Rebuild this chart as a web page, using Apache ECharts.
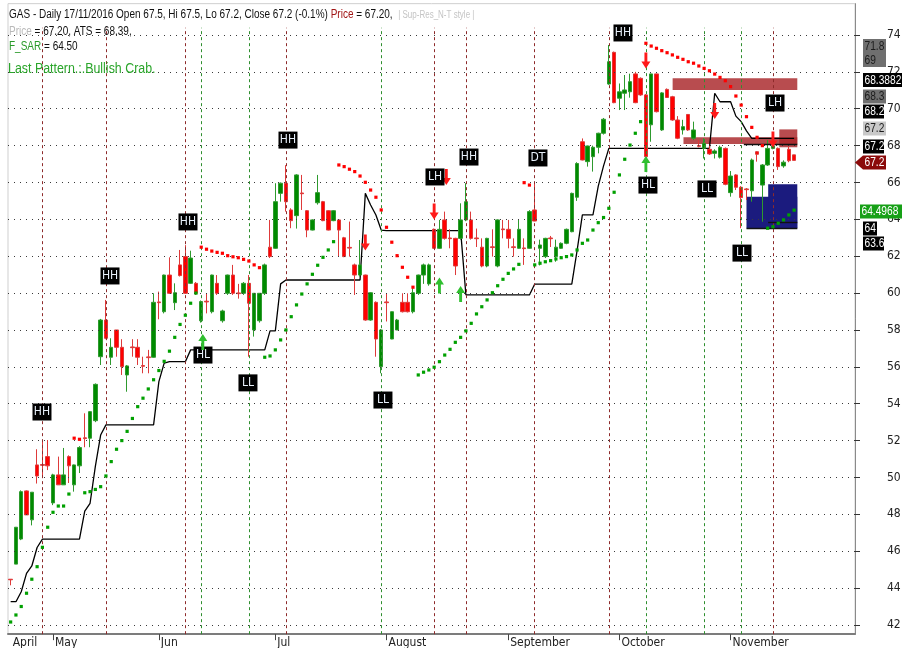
<!DOCTYPE html>
<html>
<head>
<meta charset="utf-8">
<script src="https://cdn.jsdelivr.net/npm/echarts@6.0.0/dist/echarts.min.js"></script>
<style>
html,body{margin:0;padding:0;background:#fff;}
#chart{width:904px;height:648px;}
</style>
</head>
<body>
<div id="chart"></div>
<script>
const NARROW = "'Liberation Sans Narrow','Arial Narrow','DejaVu Sans Condensed',sans-serif";
const SANS = "'Liberation Sans', Arial, sans-serif";

// ---------- data ----------
const monthIdx = [0, 8, 28, 50, 71, 94, 115, 136];
const monthNames = ['April', 'May', 'Jun', 'Jul', 'August', 'September', 'October', 'November'];
const yTicks = [42, 44, 46, 48, 50, 52, 54, 56, 58, 60, 62, 64, 66, 68, 70, 72, 74];

const opens = [44.48,45.3,46.66,49.27,47.7,50.68,50.7,51.13,48.62,50.14,
49.6,51.13,49.6,50.63,52.15,52.13,53.08,56.55,58.54,56.52,
58.0,57.06,55.56,57.08,57.06,56.07,56.54,56.52,59.52,58.99,
60.98,59.48,61.53,61.98,60.53,60.53,58.5,59.56,58.99,60.53,
58.5,59.99,60.98,60.01,59.99,60.53,58.0,58.5,59.99,62.49,
62.43,65.41,65.96,64.51,64.2,65.43,64.47,63.42,64.9,64.96,
64.47,63.93,63.97,63.0,62.48,61.53,60.98,60.98,58.54,59.5,
56.01,59.52,57.51,58.0,59.5,59.5,58.99,59.99,60.98,60.5,
63.46,62.43,63.97,62.99,62.97,62.97,63.97,63.97,62.99,62.49,
61.47,62.51,61.47,63.48,63.46,62.51,62.43,62.45,62.43,64.51,
62.43,61.98,62.99,61.98,62.43,62.7,63.33,65.2,68.21,67.13,
67.4,67.91,68.67,71.34,73.06,70.57,70.84,70.92,71.89,71.65,
70.75,69.13,71.89,68.85,71.05,70.65,69.39,68.85,69.69,68.4,
68.0,67.85,67.8,67.58,67.37,67.85,65.45,66.41,65.74,65.65,
65.55,67.67,65.86,66.95,67.85,67.85,66.9,67.8,67.5];
const closes = [44.45,47.3,49.23,47.97,49.2,50.08,50.66,50.63,50.14,49.6,
50.14,50.63,50.68,51.62,52.11,53.57,55.05,58.54,57.55,57.06,
57.06,56.01,56.05,57.04,56.52,56.03,56.5,59.5,59.48,60.98,
59.99,60.02,60.95,59.99,61.9,59.99,59.54,59.52,60.98,59.99,
59.03,60.98,59.99,59.97,60.53,59.45,59.99,59.99,61.53,61.98,
64.96,65.96,64.96,63.93,66.41,65.39,63.42,63.97,65.45,63.93,
63.42,64.47,63.42,61.98,62.44,60.98,61.53,58.54,60.02,57.51,
58.0,59.48,58.99,58.54,58.99,58.99,60.02,60.98,61.53,61.53,
62.43,63.46,62.97,62.95,61.47,63.97,64.96,62.97,62.95,61.47,
62.97,62.47,63.97,63.44,62.97,62.47,63.46,62.41,64.42,63.91,
62.61,62.97,62.95,62.49,62.7,63.46,65.41,67.03,67.22,67.98,
67.91,68.67,69.43,72.55,70.33,70.92,71.02,71.47,70.33,70.75,
67.4,71.89,69.84,70.86,70.61,69.39,68.4,69.03,68.85,68.85,
67.96,68.13,67.55,67.71,67.91,65.9,66.35,65.74,65.18,65.61,
67.22,67.53,66.95,67.85,67.98,66.86,67.1,67.18,67.2];
const lows = [44.15,45.3,46.6,47.97,47.4,49.67,50.05,50.4,48.5,49.6,
49.6,49.7,49.23,50.24,51.64,51.64,53.0,56.1,57.5,56.1,
56.55,55.56,54.65,56.55,56.1,55.65,55.65,56.5,58.58,58.9,
59.95,59.08,60.9,59.95,60.5,59.9,58.4,58.9,58.9,59.9,
58.4,59.9,59.9,59.7,59.9,56.55,57.64,58.4,59.9,61.9,
62.4,64.96,64.42,63.52,63.5,64.51,63.03,63.4,64.8,63.9,
63.4,63.9,61.98,61.95,61.98,59.9,60.9,58.5,58.5,56.55,
55.65,58.46,57.5,58.0,58.95,58.95,58.9,59.9,60.5,60.4,
62.4,62.4,62.9,62.43,60.98,62.9,63.9,62.9,62.5,61.4,
61.4,61.98,61.4,62.97,62.43,61.98,62.4,61.53,62.4,63.9,
61.5,61.9,62.5,61.7,62.4,62.65,63.3,65.0,67.2,66.86,
66.59,67.58,68.6,71.3,70.3,69.93,69.93,70.6,70.3,70.7,
67.4,68.21,69.8,68.8,70.6,69.35,68.35,68.6,68.8,68.3,
67.9,67.3,67.5,67.3,67.3,65.85,65.23,65.59,63.52,65.05,
64.96,67.13,63.87,66.9,67.8,66.68,66.8,67.1,67.2];
const highs = [44.48,47.3,49.3,49.3,49.2,51.53,52.03,52.03,50.2,51.13,
51.6,51.2,50.7,51.7,53.48,53.6,55.1,58.6,59.63,57.55,
58.0,57.5,56.1,57.5,57.5,56.55,56.92,59.99,60.08,61.0,
61.94,60.53,62.34,62.6,62.3,60.6,59.6,59.99,61.0,60.98,
59.1,61.0,61.53,60.5,60.6,60.98,60.0,60.0,61.6,63.97,
65.96,66.0,66.94,64.6,66.45,66.41,64.5,64.0,66.41,65.0,
64.5,64.5,64.0,63.05,63.88,61.6,62.88,61.0,60.05,59.55,
58.05,59.99,59.0,58.6,59.99,59.99,60.3,61.0,61.6,61.6,
63.5,63.97,64.42,63.46,63.0,64.87,65.96,64.42,63.5,62.97,
63.0,63.46,64.0,63.97,63.97,62.97,63.97,62.97,64.5,65.96,
62.9,63.0,63.1,62.9,62.75,63.5,65.45,67.1,68.39,68.0,
68.0,68.7,69.5,73.46,73.1,71.37,71.83,71.9,72.0,71.7,
70.8,71.9,71.9,70.9,71.1,70.7,69.6,69.4,69.7,69.3,
68.3,68.4,68.0,67.8,68.0,67.9,66.62,66.45,65.8,65.7,
67.3,67.7,67.0,68.3,68.0,67.9,67.2,67.98,67.5];

// ATS trailing stop
const ats = [43.26,43.26,43.8,44.8,45.2,46.2,46.65,46.65,46.65,46.65,
46.65,46.65,46.65,46.65,48.17,48.6,50.6,52.3,52.85,52.85,
52.85,52.85,52.85,52.85,52.85,52.85,52.85,52.85,55.2,56.2,
56.28,56.28,56.28,56.28,56.92,56.92,56.92,56.92,56.92,56.92,
56.92,56.92,56.92,56.92,56.92,56.92,56.92,56.92,56.92,57.95,
57.95,60.5,60.71,60.71,60.71,60.71,60.71,60.71,60.71,60.71,
60.71,60.71,60.71,60.71,60.71,60.71,60.71,65.41,64.78,64.24,
63.42,63.39,63.39,63.39,63.39,63.39,63.39,63.39,63.39,63.39,
63.39,63.39,63.39,63.39,63.39,63.39,59.9,59.9,59.9,59.9,
59.9,59.9,59.9,59.9,59.9,59.9,59.9,59.9,59.9,60.49,
60.49,60.49,60.49,60.49,60.49,60.49,60.49,62.3,64.24,64.24,
64.24,65.8,66.9,67.85,67.85,67.85,67.85,67.85,67.85,67.85,
67.85,67.85,67.85,67.85,67.85,67.85,67.85,67.85,67.85,67.85,
67.85,67.85,67.85,70.84,70.38,70.38,70.38,69.6,69.3,68.8,
68.39,68.39,68.39,68.39,68.39,68.39,68.39,68.39,68.39];

// Parabolic SAR values and side (L = below / long, S = above / short)
const sar = [42.16,42.54,43.0,43.72,44.48,45.16,46.21,47.3,48.11,48.45,48.45,49.1,
52.13,52.07,
49.17,49.23,49.35,49.5,50.08,50.86,51.53,52.0,52.5,53.2,53.84,54.3,54.8,55.3,55.8,56.3,56.85,57.6,58.3,58.8,59.45,60.0,
62.49,62.38,62.28,62.21,62.16,62.03,61.97,61.92,61.83,61.74,61.53,61.38,
56.52,56.59,56.92,57.46,58.0,58.72,59.36,59.95,60.5,61.02,61.51,61.94,62.34,62.79,
66.95,66.86,66.72,66.59,66.35,66.01,65.59,65.2,64.51,63.57,62.76,62.03,61.4,60.86,60.32,
55.56,55.71,55.83,55.98,56.28,56.64,56.95,57.33,57.6,57.95,58.36,58.87,59.26,59.63,60.02,60.4,60.75,61.07,61.31,61.56,
65.99,65.86,
61.53,61.62,61.7,61.76,61.85,61.92,61.98,62.07,62.34,62.7,62.88,63.42,63.82,64.1,64.6,65.47,66.41,67.26,68.03,68.67,69.3,
73.55,73.4,73.28,73.15,73.04,72.92,72.79,72.68,72.55,72.47,72.32,72.19,72.06,71.88,71.7,71.52,71.2,70.69,70.2,69.57,68.99,68.45,68.0,
63.52,63.6,63.79,63.97,64.24,64.5];
const sarSide = 'LLLLLLLLLLLL' + 'SS' + 'LLLLLLLLLLLLLLLLLLLLLL' + 'SSSSSSSSSSSS' +
  'LLLLLLLLLLLLLL' + 'SSSSSSSSSSSSSSS' + 'LLLLLLLLLLLLLLLLLLLL' + 'SS' +
  'LLLLLLLLLLLLLLLLLLLLL' + 'SSSSSSSSSSSSSSSSSSSSSSS' + 'LLLLLL';

// swing labels [text, bar position, price]
const pivotText = ['HH','HH','HH','HL','LL','HH','LL','LH','HH','DT','HH','HL','LL','LL','LH'];
const pivotBar  = [5.92,18.77,33.5,36.33,44.83,52.39,70.33,80.16,86.58,99.61,115.67,120.39,131.54,138.15,144.39];
const pivotPrice= [53.55,60.93,63.86,56.64,55.13,68.3,54.2,66.3,67.38,67.33,74.11,65.86,65.65,62.17,70.31];

const buyArrowBar = [36.3, 81, 85, 120];
const buyArrowPrice = [57.35, 60.41, 59.95, 67.0];
const sellArrowBar = [82.3, 67, 80, 120, 133, 144];
const sellArrowPrice = [66.3, 62.75, 64.43, 72.62, 69.88, 68.33];

const redPivotLines = [6, 18, 33, 52, 80, 86, 99, 113, 144];
const greenPivotLines = [36, 45, 70, 120, 131, 138];

// zones [barFrom, priceLow, barTo, priceHigh]
const resZones = [[125.05, 71.02, 148.6, 71.65], [127.1, 68.09, 148.6, 68.45], [145.2, 67.91, 148.6, 68.88]];
const supZones = [[139.0, 63.52, 148.6, 65.23], [143.1, 63.52, 148.6, 65.9]];
const zoneEdges = [[138.5, 68.1, 148.6, 68.1], [143.1, 63.87, 148.6, 63.87], [139.0, 63.52, 148.6, 63.52]];

const categories = [];
for (let i = 0; i < 160; i++) categories.push(String(i));

// ---------- build ----------
const candleData = opens.map((o, i) => [o, closes[i], lows[i], highs[i]]);
const sarLong = [], sarShort = [];
sar.forEach((v, i) => { (sarSide[i] === 'L' ? sarLong : sarShort).push([i, v]); });
const upArrow = 'path://M5,0 L10,7 L6.6,7 L6.6,16 L3.4,16 L3.4,7 L0,7 Z';
const downArrow = 'path://M3.4,0 L6.6,0 L6.6,9 L10,9 L5,16 L0,9 L3.4,9 Z';

const tags = [
  {t:'71.8', bg:'#6f6f6f', fg:'#1c1c1c', y:39, w:23},
  {t:'69', bg:'#6f6f6f', fg:'#1c1c1c', y:53, w:23},
  {t:'68.3882', bg:'#000000', fg:'#ffffff', y:73, w:39},
  {t:'68.3', bg:'#6f6f6f', fg:'#1c1c1c', y:89.5, w:23},
  {t:'68.2', bg:'#000000', fg:'#ffffff', y:104.5, w:21},
  {t:'67.2', bg:'#c9c9c9', fg:'#1c1c1c', y:121.5, w:23},
  {t:'67.2', bg:'#000000', fg:'#ffffff', y:139.5, w:21},
  {t:'67.2', bg:'#8b0a0a', fg:'#ffffff', y:155.5, w:23, arrow:true},
  {t:'64.4968', bg:'#16a016', fg:'#ffffff', y:204.5, w:42, x:860},
  {t:'64', bg:'#000000', fg:'#ffffff', y:221.5, w:14},
  {t:'63.6', bg:'#000000', fg:'#ffffff', y:236.5, w:21}
];
const graphics = [];
tags.forEach(g => {
  const x = g.x || 863, h = 14;
  if (g.arrow) {
    graphics.push({type:'polygon', z:100, shape:{points:[[855,g.y+h/2],[863,g.y],[x+g.w,g.y],[x+g.w,g.y+h],[863,g.y+h]]}, style:{fill:g.bg}});
  } else {
    graphics.push({type:'rect', z:100, shape:{x:x, y:g.y, width:g.w, height:h}, style:{fill:g.bg}});
  }
  graphics.push({type:'text', z:101, x:x+1.5, y:g.y+h/2+0.5, scaleX:0.85,
    style:{text:g.t, fill:g.fg, font:'12px ' + SANS, verticalAlign:'middle', align:'left'}});
});
const HF = '12.5px ' + SANS;
const richBase = {
  k:{fill:'#111', font:HF},
  r:{fill:'#a11515', font:HF},
  g:{fill:'#b9b9b9', font:HF},
  gs:{fill:'#c4c4c4', font:'10px ' + SANS},
  gr:{fill:'#2a9a2a', font:HF}
};
graphics.push({type:'text', z:102, x:9, y:15, scaleX:0.8, style:{
  text:'{k|GAS - Daily 17/11/2016 Open 67.5, Hi 67.5, Lo 67.2, Close 67.2 (-0.1%) }{r|Price}{k| = 67.20,  }{gs|| Sup-Res_N-T style |}',
  rich:richBase, verticalAlign:'middle', font:HF}});
graphics.push({type:'text', z:102, x:9, y:32, scaleX:0.8, style:{
  text:'{g|Price}{k| = 67.20, ATS = 68.39,}', rich:richBase, verticalAlign:'middle', font:HF}});
graphics.push({type:'text', z:102, x:9, y:47, scaleX:0.8, style:{
  text:'{gr|F_SAR}{k| = 64.50}', rich:richBase, verticalAlign:'middle', font:HF}});
graphics.push({type:'text', z:102, x:8, y:69, scaleX:0.8, style:{
  text:'Last Pattern.:.Bullish Crab.', fill:'#2aa52a', font:'15.5px ' + SANS, verticalAlign:'middle'}});

const option = {
  animation: false,
  backgroundColor: '#ffffff',
  grid: {left: 8, top: 3.66, width: 847, height: 630.5, show: true, borderColor: '#cfcfcf', borderWidth: 1, outerBoundsMode: 'none', containLabel: false},
  xAxis: [
    {type:'category', data: categories, boundaryGap: true,
     axisLine:{show:true, lineStyle:{color:'#7c7c7c', width:2}},
     axisTick:{show:true, alignWithLabel:true, length:6, interval:(i) => i > 0 && monthIdx.indexOf(i) >= 0, lineStyle:{color:'#444'}},
     axisLabel:{interval:(i) => monthIdx.indexOf(i) >= 0, formatter:(v, i) => { const k = monthIdx.indexOf(i); return k >= 0 ? monthNames[k] : ''; },
       align:'left', margin:3, padding:[0,0,0,2], color:'#222', fontSize:12, fontFamily:NARROW},
     splitLine:{show:false}},
    {type:'value', min:-0.5, max:159.5, show:false}
  ],
  yAxis: {type:'value', position:'right', min:41.5, max:75.7,
    axisLine:{show:true, onZero:false, lineStyle:{color:'#8a8a8a', width:1}},
    axisTick:{show:true, customValues: yTicks, length:5, lineStyle:{color:'#333'}},
    axisLabel:{customValues: yTicks, margin:32, color:'#222', fontSize:12, fontFamily:NARROW},
    splitLine:{show:false}},
  graphic: graphics,
  series: [
    {type:'line', name:'grid', data:[], z:1, silent:true,
     markLine:{silent:true, symbol:['none','none'], label:{show:false}, emphasis:{disabled:true},
       lineStyle:{color:'#3a3a3a', type:[1,5], width:1}, data: yTicks.map(v => ({yAxis: v}))}},
    {type:'scatter', name:'pivotRed', xAxisIndex:1, data:[], z:1, silent:true,
     markLine:{silent:true, symbol:['none','none'], label:{show:false}, emphasis:{disabled:true},
       lineStyle:{color:'#8e2b2b', type:[3,3], width:1}, data: redPivotLines.map(x => [{coord:[x, 41.5]}, {coord:[x, 74.4]}])}},
    {type:'scatter', name:'pivotGreen', xAxisIndex:1, data:[], z:1, silent:true,
     markLine:{silent:true, symbol:['none','none'], label:{show:false}, emphasis:{disabled:true},
       lineStyle:{color:'#2f8f2f', type:[3,3], width:1}, data: greenPivotLines.map(x => [{coord:[x, 41.5]}, {coord:[x, 74.4]}])}},
    {type:'scatter', name:'res', xAxisIndex:1, data:[], z:2, silent:true,
     markArea:{silent:true, itemStyle:{color:'rgba(168,36,40,0.82)'}, label:{show:false},
       data: resZones.map(zn => [{coord:[zn[0], zn[1]]}, {coord:[zn[2], zn[3]]}])}},
    {type:'scatter', name:'sup', xAxisIndex:1, data:[], z:2, silent:true,
     markArea:{silent:true, itemStyle:{color:'#1b1b7e', opacity:1}, label:{show:false},
       data: supZones.map(zn => [{coord:[zn[0], zn[1]]}, {coord:[zn[2], zn[3]]}])}},
    {type:'line', name:'ATS', data: ats, symbol:'none', z:3, silent:true,
     lineStyle:{color:'#000', width:1.3}},
    {type:'scatter', name:'edges', xAxisIndex:1, data:[], z:3, silent:true,
     markLine:{silent:true, symbol:['none','none'], label:{show:false}, emphasis:{disabled:true},
       lineStyle:{color:'#111', type:'solid', width:1.4}, data: zoneEdges.map(e => [{coord:[e[0], e[1]]}, {coord:[e[2], e[3]]}])}},
    {type:'candlestick', name:'GAS', data: candleData, barWidth: 4, z:4, silent:true,
     itemStyle:{color:'#008a00', color0:'#ff0000', borderColor:'#2e9a2e', borderColor0:'#de3a3a', borderWidth:1}},
    {type:'scatter', name:'sarL', data: sarLong, symbol:'rect', symbolSize:3.2, z:5, silent:true,
     itemStyle:{color:'#00a000', opacity:1}},
    {type:'scatter', name:'sarS', data: sarShort, symbol:'rect', symbolSize:3.2, z:5, silent:true,
     itemStyle:{color:'#ff0000', opacity:1}},
    {type:'scatter', name:'sell', xAxisIndex:1, data: sellArrowBar.map((b, i) => [b, sellArrowPrice[i]]),
     symbol: downArrow, symbolSize:[9,16], z:6, silent:true, itemStyle:{color:'#ff1a1a', opacity:1}},
    {type:'scatter', name:'pivots', xAxisIndex:1, z:7, silent:true,
     data: pivotText.map((t, i) => ({name:t, value:[pivotBar[i], pivotPrice[i]]})),
     symbol:'rect', symbolSize:[19,17], itemStyle:{color:'#000', opacity:1},
     label:{show:true, position:'inside', formatter:'{b}', color:'#e8f0fa', fontSize:12, fontFamily:NARROW}},
    {type:'scatter', name:'buy', xAxisIndex:1, data: buyArrowBar.map((b, i) => [b, buyArrowPrice[i]]),
     symbol: upArrow, symbolSize:[9,16], z:8, silent:true, itemStyle:{color:'#2fbf2f', opacity:1}}
  ]
};

const chart = echarts.init(document.getElementById('chart'), null, {renderer:'canvas'});
chart.setOption(option);
</script>
</body>
</html>
